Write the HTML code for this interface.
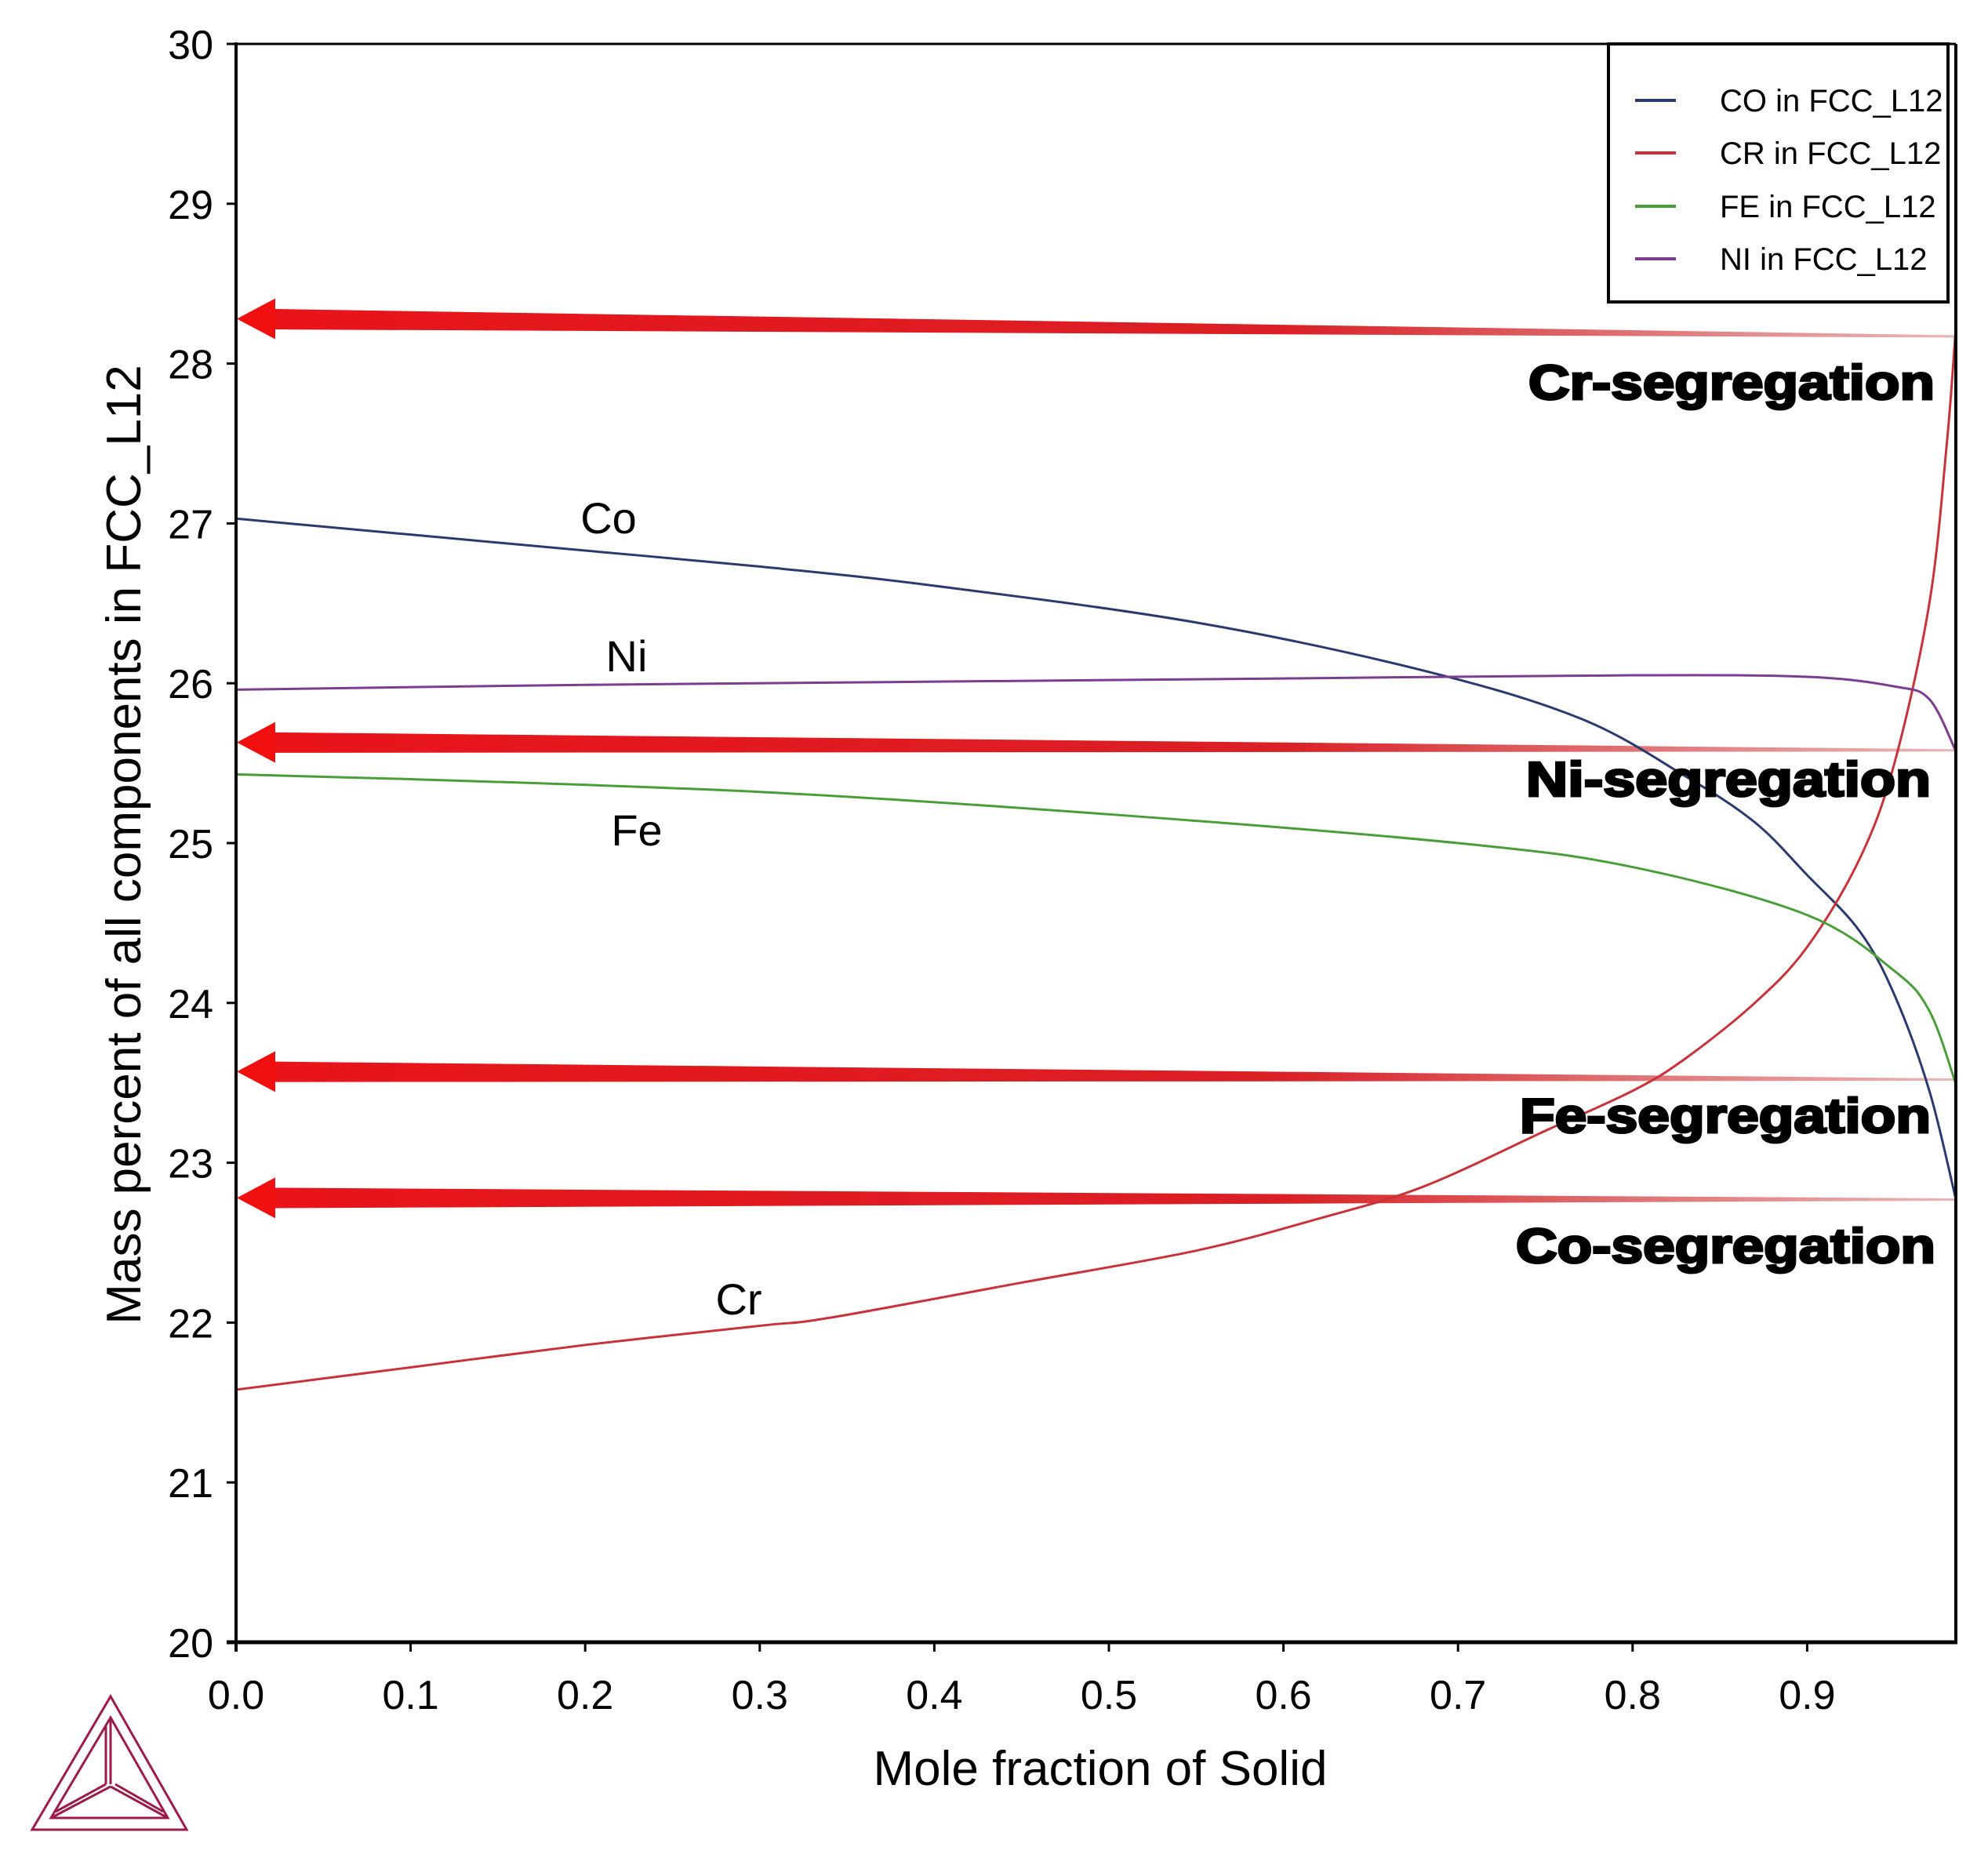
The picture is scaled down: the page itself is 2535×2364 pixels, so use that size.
<!DOCTYPE html>
<html><head><meta charset="utf-8"><style>
html,body{margin:0;padding:0;background:#fff;}
svg{display:block;font-family:"Liberation Sans",Arial,sans-serif;}
</style></head><body>
<svg id="chart" width="2535" height="2364" viewBox="0 0 2535 2364" xmlns="http://www.w3.org/2000/svg">
<defs>
<linearGradient id="fade" x1="0" y1="0" x2="1" y2="0">
<stop offset="0" stop-color="#e8141a" stop-opacity="1"/>
<stop offset="0.6" stop-color="#d8141a" stop-opacity="0.95"/>
<stop offset="1" stop-color="#c03030" stop-opacity="0.35"/>
</linearGradient>
</defs>
<g id="arrows"></g>
<g id="series"></g>
<g id="axes"></g>
<g id="labels"></g>
<g>
<rect x="2051" y="56" width="433" height="329" fill="#fff" stroke="#000" stroke-width="4"/>
<g id="legend"></g>
</g>
<g fill="none" stroke="#9b1b4a" stroke-width="3">
<polygon points="141,2163 41,2333 238,2333"/>
<polygon points="141,2190 65,2318 214,2318"/>
<line x1="141" y1="2190" x2="141" y2="2275"/>
<line x1="135" y1="2200" x2="135" y2="2275"/>
<line x1="65" y1="2318" x2="141" y2="2278"/>
<line x1="214" y1="2318" x2="141" y2="2278"/>
<line x1="71" y1="2310" x2="135" y2="2275"/>
<line x1="208" y1="2310" x2="147" y2="2275"/>
</g>
</svg>
<script>
const xTicks = [0.0,0.1,0.2,0.3,0.4,0.5,0.6,0.7,0.8,0.9];
const xTickLabels = ["0.0","0.1","0.2","0.3","0.4","0.5","0.6","0.7","0.8","0.9"];
const yTicks = [20,21,22,23,24,25,26,27,28,29,30];
const coX = [0,0.1,0.2,0.3,0.4,0.55,0.68,0.77,0.83,0.87,0.9,0.93,0.95,0.97,0.985];
const coY = [27.03,26.93,26.83,26.73,26.61,26.38,26.08,25.78,25.42,25.13,24.8,24.45,24.05,23.45,22.78];
const niX = [0,0.2,0.4,0.6,0.8,0.9,0.95,0.97,0.985];
const niY = [25.96,25.99,26.01,26.03,26.05,26.04,25.98,25.9,25.58];
const feX = [0,0.1,0.3,0.5,0.7,0.8,0.9,0.95,0.97,0.985];
const feY = [25.43,25.4,25.32,25.18,25.0,24.85,24.55,24.2,23.95,23.5];
const crX = [0,0.1,0.2,0.3,0.34,0.45,0.55,0.62,0.68,0.75,0.8,0.83,0.87,0.9,0.93,0.95,0.97,0.98,0.985];
const crY = [21.58,21.72,21.86,21.98,22.03,22.25,22.45,22.65,22.85,23.2,23.45,23.65,24.0,24.35,24.9,25.5,26.5,27.5,28.2];
const arrowLeft = [28.28,25.63,23.57,22.78];
const arrowRight = [28.17,25.58,23.52,22.77];
const legendNames = ["CO in FCC_L12","CR in FCC_L12","FE in FCC_L12","NI in FCC_L12"];

const X0=301, X1=2494, Y0=2094, Y1=56, XMAX=0.985;
const xs = v => X0 + v/0.1*222.6;
const ys = v => Y0 - (v-20)*(Y0-Y1)/10;
const NS="http://www.w3.org/2000/svg";
function mk(tag, attrs, parent, text){
  const e=document.createElementNS(NS,tag);
  for(const k in attrs) e.setAttribute(k,attrs[k]);
  if(text!==undefined) e.textContent=text;
  parent.appendChild(e); return e;
}
const axes=document.getElementById('axes');
const labels=document.getElementById('labels');
const seriesG=document.getElementById('series');
const arrowsG=document.getElementById('arrows');
const legendG=document.getElementById('legend');

let e=mk('line',{x1:X0,y1:Y1,x2:X1,y2:Y1,stroke:'#000','stroke-width':3},axes);


e=mk('line',{x1:X1,y1:Y1,x2:X1,y2:Y0,stroke:'#000','stroke-width':4},axes);


e=mk('line',{x1:X0,y1:Y1-2,x2:X0,y2:Y0+12,stroke:'#000','stroke-width':4},axes);


e=mk('line',{x1:X0-12,y1:Y0,x2:X1+2,y2:Y0,stroke:'#000','stroke-width':5},axes);



yTicks.forEach(v=>{
  const y=ys(v);
  const t=mk('line',{x1:X0-12,y1:y,x2:X0,y2:y,stroke:'#000','stroke-width':3},axes);
  
  
  const l=mk('text',{x:272,y:y+19,'text-anchor':'end','font-size':52,fill:'#000'},axes,String(v));
  
  
});
xTicks.forEach((v,i)=>{
  const x=xs(v);
  const t=mk('line',{x1:x,y1:Y0,x2:x,y2:Y0+12,stroke:'#000','stroke-width':3},axes);
  
  
  const l=mk('text',{x:x,y:2179,'text-anchor':'middle','font-size':52,fill:'#000'},axes,xTickLabels[i]);
  
  
});
e=mk('text',{x:1403,y:2276,'text-anchor':'middle','font-size':62,fill:'#000'},axes,'Mole fraction of Solid');


e=mk('text',{x:0,y:0,'text-anchor':'middle','font-size':62,fill:'#000',transform:'translate(179,1077) rotate(-90)'},axes,'Mass percent of all components in FCC_L12');



arrowLeft.forEach((vl,i)=>{
  const vr=arrowRight[i];
  const yl=ys(vl), yr=ys(vr), xr=xs(XMAX), hx=X0+50;
  const frac=(hx-X0)/(xr-X0);
  const yh=yl+(yr-yl)*frac;
  const sh=mk('polygon',{points:`${hx},${yh-13} ${xr},${yr-1.5} ${xr},${yr+1.5} ${hx},${yh+13}`,fill:'url(#fade)'},arrowsG);
  
  
  const hd=mk('polygon',{points:`${X0+1},${yl} ${hx},${yl-26} ${hx},${yl+26}`,fill:'#f01010'},arrowsG);
  
  
});

function path(xa,ya){
  const p=xa.map((x,i)=>[xs(x),ys(ya[i])]);
  let d=`M${p[0][0]},${p[0][1]}`;
  for(let i=0;i<p.length-1;i++){
    const p0=p[Math.max(i-1,0)],p1=p[i],p2=p[i+1],p3=p[Math.min(i+2,p.length-1)];
    const c1=[p1[0]+(p2[0]-p0[0])/6,p1[1]+(p2[1]-p0[1])/6];
    const c2=[p2[0]-(p3[0]-p1[0])/6,p2[1]-(p3[1]-p1[1])/6];
    d+=` C${c1[0]},${c1[1]} ${c2[0]},${c2[1]} ${p2[0]},${p2[1]}`;
  }
  return d;
}
const colors=['#2b3a6e','#c8333a','#4a9e3a','#7b3d8e'];
let s;
s=mk('path',{d:path(coX,coY),fill:'none',stroke:colors[0],'stroke-width':3},seriesG);


s=mk('path',{d:path(crX,crY),fill:'none',stroke:colors[1],'stroke-width':3},seriesG);


s=mk('path',{d:path(feX,feY),fill:'none',stroke:colors[2],'stroke-width':3},seriesG);


s=mk('path',{d:path(niX,niY),fill:'none',stroke:colors[3],'stroke-width':3},seriesG);



[['Co',776,680],['Ni',799,856],['Fe',812,1078],['Cr',942,1676]].forEach(a=>{
  const t=mk('text',{x:a[1],y:a[2],'text-anchor':'middle','font-size':56,fill:'#000'},labels,a[0]);
  
  
});
[['Cr-segregation',1949,2467,509],['Ni-segregation',1946,2462,1015],['Fe-segregation',1938,2462,1444],['Co-segregation',1933,2468,1610]].forEach(a=>{
  const t=mk('text',{x:a[1],y:a[3],'font-size':62,'font-weight':'bold',fill:'#000',stroke:'#000','stroke-width':3,textLength:a[2]-a[1],lengthAdjust:'spacingAndGlyphs'},labels,a[0]);
  
  
});
const rowY=[128,195,263,330];
legendNames.forEach((n,i)=>{
  const l=mk('line',{x1:2085,y1:rowY[i],x2:2137,y2:rowY[i],stroke:colors[i],'stroke-width':4},legendG);
  
  
  const t=mk('text',{x:2193,y:rowY[i]+14,'font-size':40,fill:'#000'},legendG,n);
  
  
});
</script>
</body></html>
